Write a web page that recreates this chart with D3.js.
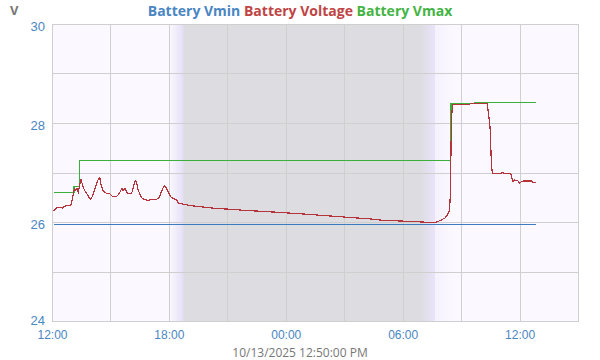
<!DOCTYPE html>
<html>
<head>
<meta charset="utf-8">
<script src="https://cdn.jsdelivr.net/npm/d3@7"></script>
<style>
  body { margin: 0; background: #fff; }
  svg { font-family: "Open Sans", sans-serif; }
</style>
</head>
<body>
<script>
// battery voltage, one day to 10/13/2025 12:50
var voltTimes = ['2025-10-12T12:05','2025-10-12T12:14','2025-10-12T12:24','2025-10-12T12:32','2025-10-12T12:39','2025-10-12T12:49','2025-10-12T12:57',
  '2025-10-12T13:01','2025-10-12T13:05','2025-10-12T13:09','2025-10-12T13:13','2025-10-12T13:17','2025-10-12T13:21','2025-10-12T13:25','2025-10-12T13:29',
  '2025-10-12T13:34','2025-10-12T13:40','2025-10-12T13:46','2025-10-12T13:52','2025-10-12T13:58','2025-10-12T14:04','2025-10-12T14:11','2025-10-12T14:17',
  '2025-10-12T14:23','2025-10-12T14:27','2025-10-12T14:31','2025-10-12T14:37','2025-10-12T14:43','2025-10-12T14:49','2025-10-12T14:58','2025-10-12T15:06',
  '2025-10-12T15:14','2025-10-12T15:22','2025-10-12T15:29','2025-10-12T15:35','2025-10-12T15:39','2025-10-12T15:45','2025-10-12T15:51','2025-10-12T15:57',
  '2025-10-12T16:05','2025-10-12T16:09','2025-10-12T16:16','2025-10-12T16:20','2025-10-12T16:24','2025-10-12T16:30','2025-10-12T16:36','2025-10-12T16:45',
  '2025-10-12T16:55','2025-10-12T17:05','2025-10-12T17:13','2025-10-12T17:22','2025-10-12T17:30','2025-10-12T17:36','2025-10-12T17:42','2025-10-12T17:46',
  '2025-10-12T17:52','2025-10-12T17:59','2025-10-12T18:05','2025-10-12T18:13','2025-10-12T18:23','2025-10-12T18:30','2025-10-12T18:43','2025-10-12T18:59',
  '2025-10-12T19:20','2025-10-12T19:50','2025-10-12T20:31','2025-10-12T21:02','2025-10-12T21:43','2025-10-12T22:34','2025-10-12T23:26','2025-10-13T00:12',
  '2025-10-13T00:58','2025-10-13T01:39','2025-10-13T02:21','2025-10-13T03:01','2025-10-13T03:43','2025-10-13T04:24','2025-10-13T05:05','2025-10-13T05:56',
  '2025-10-13T06:58','2025-10-13T07:39','2025-10-13T07:49','2025-10-13T07:59','2025-10-13T08:10','2025-10-13T08:18','2025-10-13T08:24','2025-10-13T08:26',
  '2025-10-13T08:28','2025-10-13T08:30','2025-10-13T08:32','2025-10-13T08:35','2025-10-13T09:27','2025-10-13T09:29','2025-10-13T09:37','2025-10-13T09:43',
  '2025-10-13T10:21','2025-10-13T10:23','2025-10-13T10:26','2025-10-13T10:29','2025-10-13T10:31','2025-10-13T10:33','2025-10-13T10:36','2025-10-13T11:04',
  '2025-10-13T11:07','2025-10-13T11:15','2025-10-13T11:33','2025-10-13T11:36','2025-10-13T11:40','2025-10-13T11:45','2025-10-13T11:55','2025-10-13T12:00',
  '2025-10-13T12:11','2025-10-13T12:37','2025-10-13T12:40','2025-10-13T12:50'];
var voltValues = [26.22,26.29,26.30,26.28,26.32,26.34,26.33,
  26.41,26.55,26.67,26.64,26.68,26.60,26.73,26.87,
  26.75,26.64,26.59,26.52,26.46,26.51,26.65,26.77,
  26.87,26.90,26.76,26.64,26.60,26.57,26.57,26.52,
  26.51,26.53,26.60,26.68,26.64,26.67,26.59,26.57,
  26.57,26.67,26.83,26.81,26.68,26.57,26.49,26.45,
  26.44,26.45,26.45,26.46,26.49,26.60,26.69,26.73,
  26.69,26.59,26.51,26.48,26.45,26.38,26.36,26.34,
  26.32,26.30,26.27,26.26,26.24,26.22,26.20,26.18,
  26.16,26.14,26.12,26.10,26.08,26.06,26.03,26.02,
  26.00,25.99,26.01,26.04,26.08,26.14,26.23,26.42,
  27.05,28.00,28.25,28.38,28.38,28.40,28.39,28.40,
  28.39,28.26,28.09,27.93,27.62,27.22,26.98,26.98,
  27.00,26.98,26.98,26.90,26.81,26.85,26.83,26.79,
  26.83,26.83,26.80,26.80];

var vmaxTimes = ['2025-10-12T12:05','2025-10-12T13:08','2025-10-12T13:25','2025-10-13T08:27','2025-10-13T08:29','2025-10-13T09:42','2025-10-13T12:50'];
var vmaxValues = [26.59,26.72,27.25,28.00,28.40,28.42,28.42];

var vminTimes = ['2025-10-12T12:05','2025-10-13T12:50'];
var vminValues = [25.95,25.95];

var xDomain = ['2025-10-12T12:00','2025-10-13T15:00'];
var yDomain = [24, 30];
var yLabelTicks = [24, 26, 28, 30];
var yGridTicks = [24, 25, 26, 27, 28, 29, 30];

// night shading: [time, colour]
var shadeTimes = ['2025-10-12T18:00','2025-10-12T18:44','2025-10-12T18:46','2025-10-13T06:52','2025-10-13T07:38','2025-10-13T07:40','2025-10-13T08:40'];
var shadeColors = ['#fbf9ff','#e6e0f6','#dcdce1','#dcdce1','#e9e3f8','#f5f1fe','#fbf9ff'];

var parse = d3.timeParse('%Y-%m-%dT%H:%M');

var W = 600, H = 360;
var m = {top: 24, right: 22, bottom: 39, left: 52};
var w = W - m.left - m.right, h = H - m.top - m.bottom;

var svg = d3.select('body').append('svg')
  .attr('width', W)
  .attr('height', H);

var x = d3.scaleTime()
  .domain(xDomain.map(parse))
  .range([0, w]);
var y = d3.scaleLinear()
  .domain(yDomain)
  .range([h, 0]);

var g = svg.append('g')
  .attr('transform', 'translate(' + m.left + ',' + m.top + ')');

var grad = svg.append('defs').append('linearGradient')
  .attr('id', 'night')
  .attr('gradientUnits', 'userSpaceOnUse')
  .attr('x1', 0).attr('x2', w).attr('y1', 0).attr('y2', 0);
grad.selectAll('stop')
  .data(shadeTimes)
  .enter().append('stop')
  .attr('offset', function(d) { return x(parse(d)) / w; })
  .attr('stop-color', function(d, i) { return shadeColors[i]; });

g.append('rect')
  .attr('width', w)
  .attr('height', h)
  .attr('fill', 'url(#night)');

// grid
g.selectAll('.hgrid')
  .data(yGridTicks)
  .enter().append('line')
  .attr('x1', 0).attr('x2', w)
  .attr('y1', function(d) { return Math.round(y(d)) + 0.5; })
  .attr('y2', function(d) { return Math.round(y(d)) + 0.5; })
  .attr('stroke', '#cfcfcf');

g.selectAll('.vgrid')
  .data(x.ticks(d3.timeHour.every(3)))
  .enter().append('line')
  .attr('y1', 0).attr('y2', h)
  .attr('x1', function(d) { return Math.round(x(d)) + 0.5; })
  .attr('x2', function(d) { return Math.round(x(d)) + 0.5; })
  .attr('stroke', '#cfcfcf');

g.append('rect')
  .attr('x', 0.5).attr('y', 0.5)
  .attr('width', w).attr('height', h)
  .attr('fill', 'none')
  .attr('stroke', '#cfcfcf');

function series(times, values, color, curve) {
  var pts = times.map(function(t, i) { return [parse(t), values[i]]; });
  var line = d3.line()
    .x(function(d) { return x(d[0]); })
    .y(function(d) { return y(d[1]); })
    .curve(curve);
  g.append('path')
    .datum(pts)
    .attr('d', line)
    .attr('fill', 'none')
    .attr('stroke', color)
    .attr('stroke-width', 1.2)
    .attr('shape-rendering', 'crispEdges');
}

series(vminTimes, vminValues, '#3a7cc0', d3.curveStepAfter);
series(vmaxTimes, vmaxValues, '#3aaf3a', d3.curveStepAfter);
series(voltTimes, voltValues, '#b5343c', d3.curveLinear);

// axes
var xAxis = d3.axisBottom(x)
  .ticks(d3.timeHour.every(6))
  .tickFormat(d3.timeFormat('%H:%M'))
  .tickSize(0)
  .tickPadding(9);
var xg = g.append('g')
  .attr('transform', 'translate(0,' + h + ')')
  .call(xAxis);
xg.select('.domain').remove();
xg.selectAll('text')
  .attr('fill', '#4a86c2')
  .style('font-size', '12px');

var yAxis = d3.axisLeft(y)
  .tickValues(yLabelTicks)
  .tickFormat(d3.format('d'))
  .tickSize(0)
  .tickPadding(7);
var yg = g.append('g').call(yAxis);
yg.select('.domain').remove();
yg.selectAll('text')
  .attr('fill', '#4a86c2')
  .attr('dy', function(d) { return d === 24 ? '0.3em' : '0.5em'; })
  .style('font-size', '13px');

svg.append('text')
  .attr('x', 10).attr('y', 15)
  .text('V')
  .attr('fill', '#777')
  .style('font-weight', 'bold')
  .style('font-size', '13px');

var title = svg.append('text')
  .attr('x', W / 2).attr('y', 16)
  .attr('text-anchor', 'middle')
  .style('font-weight', 'bold')
  .style('font-size', '14px');
title.append('tspan').attr('fill', '#4a86c2').text('Battery Vmin ');
title.append('tspan').attr('fill', '#bf4444').text('Battery Voltage ');
title.append('tspan').attr('fill', '#44b444').text('Battery Vmax');

svg.append('text')
  .attr('x', W / 2).attr('y', 357)
  .attr('text-anchor', 'middle')
  .attr('fill', '#777')
  .style('font-size', '12px')
  .text('10/13/2025 12:50:00 PM');
</script>
</body>
</html>
